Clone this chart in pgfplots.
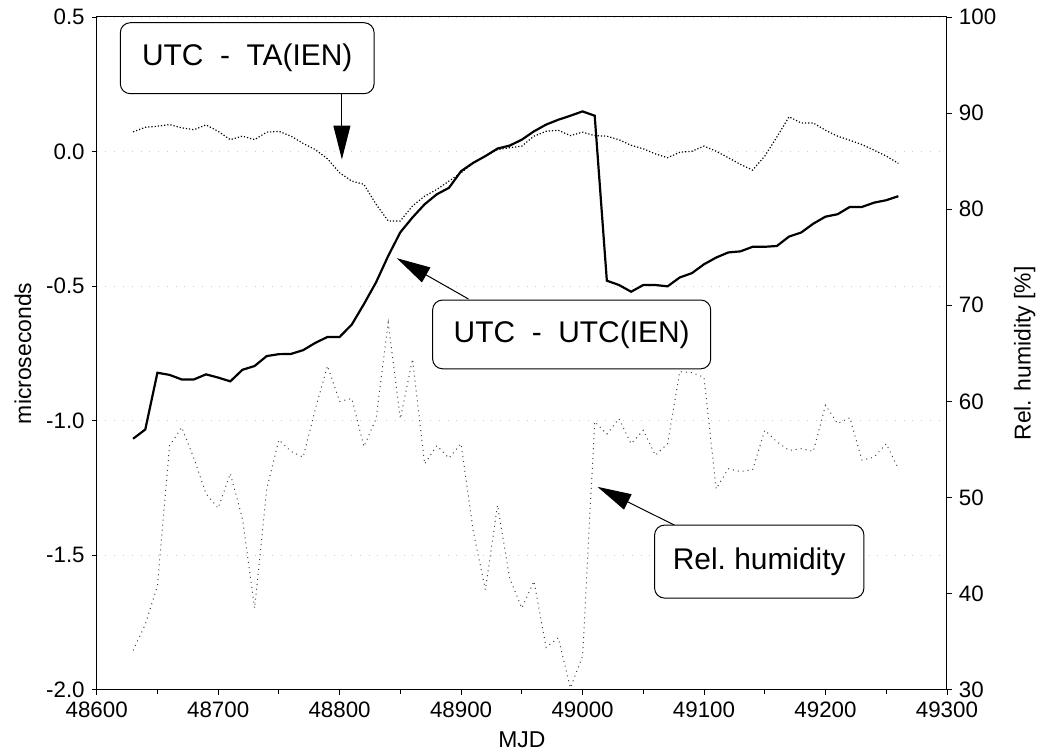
\documentclass[border=0pt]{standalone}
\usepackage{pgfplots}
\pgfplotsset{compat=1.18}
\usepackage{pgfplotstable}
\usepackage{fontspec}
\setmainfont{Liberation Sans}
\usetikzlibrary{arrows.meta}

\pgfplotstableread{
mjd utc ta
48630 -1.067 0.073
48640 -1.033 0.090
48650 -0.822 0.094
48660 -0.830 0.100
48670 -0.847 0.088
48680 -0.847 0.081
48690 -0.828 0.099
48700 -0.840 0.075
48710 -0.854 0.044
48720 -0.811 0.057
48730 -0.797 0.044
48740 -0.760 0.072
48750 -0.753 0.075
48760 -0.752 0.057
48770 -0.738 0.030
48780 -0.711 0.007
48790 -0.689 -0.027
48800 -0.689 -0.079
48810 -0.643 -0.110
48820 -0.567 -0.122
48830 -0.486 -0.196
48840 -0.388 -0.258
48850 -0.300 -0.258
48860 -0.245 -0.202
48870 -0.196 -0.166
48880 -0.159 -0.141
48890 -0.135 -0.110
48900 -0.073 -0.079
48910 -0.042 -0.042
48920 -0.017 -0.017
48930 0.011 0.007
48940 0.022 0.014
48950 0.044 0.020
48960 0.075 0.057
48970 0.100 0.075
48980 0.118 0.079
48990 0.133 0.059
49000 0.149 0.072
49010 0.133 0.059
49020 -0.480 0.057
49030 -0.496 0.044
49040 -0.521 0.023
49050 -0.496 0.010
49060 -0.496 -0.009
49070 -0.501 -0.023
49080 -0.468 -0.003
49090 -0.452 0.001
49100 -0.419 0.020
49110 -0.394 0.001
49120 -0.375 -0.023
49130 -0.371 -0.048
49140 -0.354 -0.069
49150 -0.354 -0.017
49160 -0.351 0.054
49170 -0.316 0.129
49180 -0.301 0.106
49190 -0.268 0.106
49200 -0.242 0.079
49210 -0.233 0.057
49220 -0.206 0.042
49230 -0.206 0.026
49240 -0.190 0.005
49250 -0.181 -0.017
49260 -0.166 -0.044
}\utctable

\pgfplotstableread{
mjd hum
48630 34.1
48640 36.8
48650 40.8
48660 55.4
48670 57.3
48680 54.1
48690 50.4
48700 48.9
48710 52.5
48720 47.8
48730 38.5
48740 50.9
48750 56.0
48760 54.8
48770 54.2
48780 59.2
48790 63.7
48800 60.0
48810 60.3
48820 55.3
48830 58.2
48840 68.2
48850 58.2
48860 64.4
48870 53.5
48880 55.4
48890 54.1
48900 55.6
48910 46.5
48920 40.4
48930 49.2
48940 41.6
48950 38.5
48960 41.3
48970 34.4
48980 35.4
48990 30.2
49000 33.5
49010 57.9
49020 56.6
49030 58.2
49040 55.6
49050 57.0
49060 54.4
49070 55.6
49080 63.1
49090 63.0
49100 62.5
49110 50.9
49120 53.0
49130 52.7
49140 52.9
49150 57.0
49160 55.8
49170 54.9
49180 55.1
49190 54.8
49200 59.6
49210 57.7
49220 58.3
49230 53.9
49240 54.2
49250 55.6
49260 53.0
}\humtable

\begin{document}
\begin{tikzpicture}[font=\fontsize{11.2}{13}\selectfont]
\pgfplotsset{
  common/.style={
    scale only axis, width=426.5pt, height=337.5pt,
    xmin=48600, xmax=49300,
    scaled x ticks=false, scaled y ticks=false,
    tick align=outside,
    major tick length=2.5pt, minor tick length=2pt,
    tick style={black, line width=0.4pt},
    axis line style={line width=0.5pt},
    every tick label/.append style={font=\fontsize{11.2}{13}\selectfont},
  }
}
\begin{axis}[common,
  name=main,
  ymin=-2.0, ymax=0.5,
  ytick={-2.0,-1.5,-1.0,-0.5,0.0,0.5},
  yticklabels={-2.0,-1.5,-1.0,-0.5,0.0,0.5},
  xtick={48600,48700,48800,48900,49000,49100,49200,49300},
  xticklabels={48600,48700,48800,48900,49000,49100,49200,49300},
  minor x tick num=1,
  xtick pos=bottom, ytick pos=left,
  ymajorgrids, major grid style={gray!40, loosely dotted, line width=0.4pt},
  xlabel={MJD}, ylabel={microseconds},
  xlabel style={at={(axis description cs:0.5,-0.0736)}, anchor=center, font=\fontsize{11.5}{13}\selectfont},
  ylabel style={at={(axis description cs:-0.0868,0.5)}, anchor=center, font=\fontsize{11.5}{13}\selectfont},
  clip=true,
]
\addplot[black, line width=1.1pt] table[x=mjd, y=utc] {\utctable};
\addplot[black, densely dotted, line width=0.6pt] table[x=mjd, y=ta] {\utctable};
\end{axis}
\begin{axis}[common,
  ymin=30, ymax=100,
  ytick={30,40,50,60,70,80,90,100},
  yticklabels={30,40,50,60,70,80,90,100},
  axis x line=none,
  axis y line*=right,
  ytick pos=right,
  ylabel={Rel. humidity [\%]},
  ylabel style={at={(axis description cs:1.0914,0.5)}, anchor=center, font=\fontsize{11.5}{13}\selectfont},
]
\addplot[black!75, dotted, line width=0.5pt] table[x=mjd, y=hum] {\humtable};
\end{axis}

\begin{scope}[shift={(main.south west)}]
  \path (-48.5pt,-31pt) rectangle (472.5pt,346pt);
  % box 1
  \draw[line width=0.5pt, -{Triangle[length=17pt,width=8.5pt]}] (123pt,299pt) -- (123pt,266pt);
  \node[draw, line width=0.5pt, rounded corners=5pt, fill=white, minimum width=127.3pt, minimum height=35.6pt, font=\fontsize{15}{17}\selectfont] at (75.5pt,316.8pt) {UTC\ \ -\ \ TA(IEN)};
  % box 2
  \draw[line width=0.5pt, -{Triangle[length=17pt,width=8.5pt]}] (186.5pt,196pt) -- (150.5pt,216.5pt);
  \node[draw, line width=0.5pt, rounded corners=5pt, fill=white, minimum width=139.5pt, minimum height=34.5pt, font=\fontsize{15}{17}\selectfont] at (238.25pt,178.25pt) {UTC\ \ -\ \ UTC(IEN)};
  % box 3
  \draw[line width=0.5pt, -{Triangle[length=17pt,width=8.5pt]}] (289.8pt,82.6pt) -- (251.2pt,101.8pt);
  \node[draw, line width=0.5pt, rounded corners=5pt, fill=white, minimum width=105pt, minimum height=36.6pt, font=\fontsize{15}{17}\selectfont] at (332.35pt,64.3pt) {Rel.\ humidity};
\end{scope}
\end{tikzpicture}
\end{document}
